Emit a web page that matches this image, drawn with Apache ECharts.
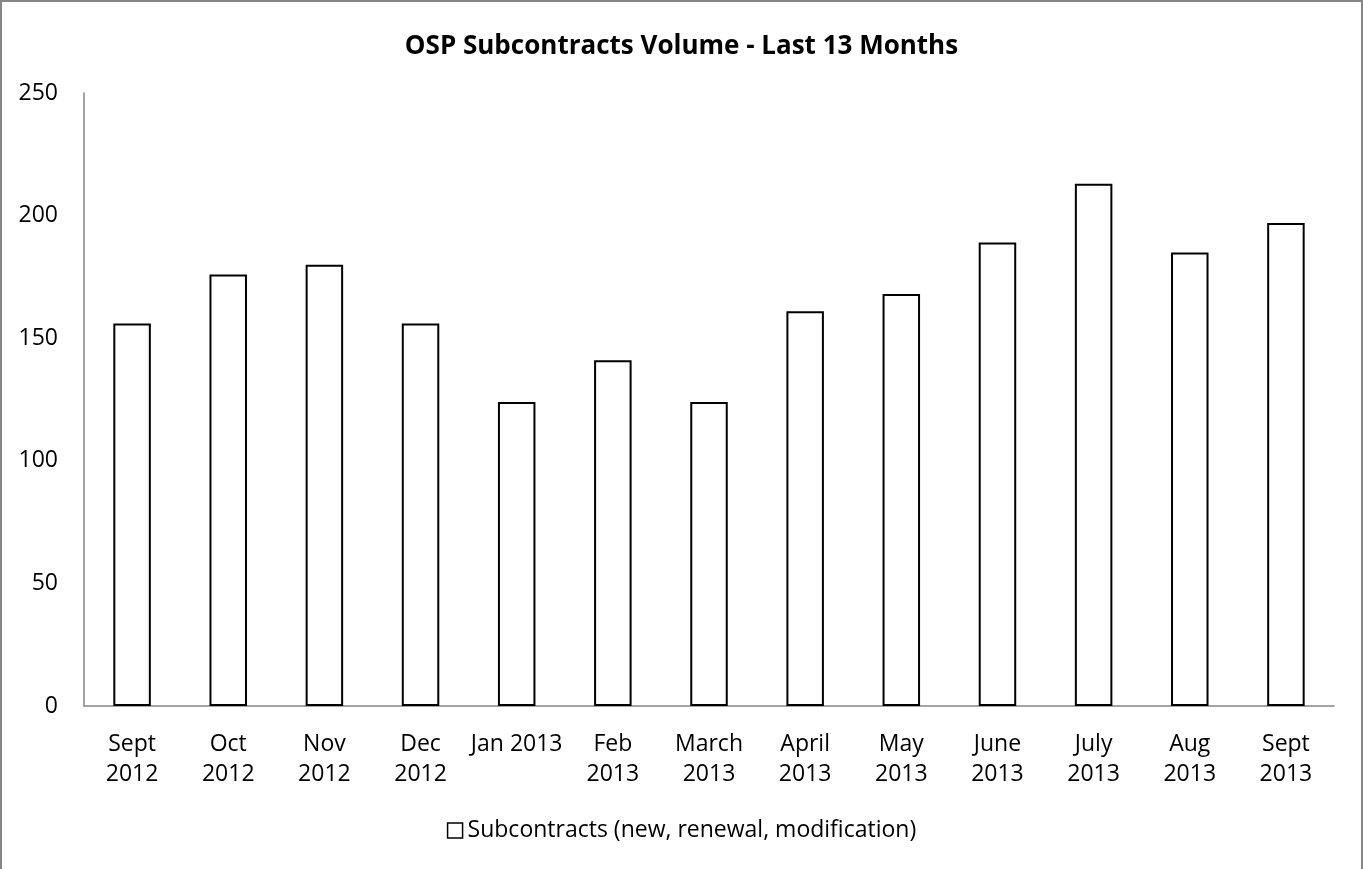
<!DOCTYPE html>
<html>
<head>
<meta charset="utf-8">
<title>OSP Subcontracts Volume</title>
<script src="https://cdn.jsdelivr.net/npm/echarts@6/dist/echarts.min.js"></script>
<style>
  html, body { margin: 0; padding: 0; background: #fff; }
  #chart { width: 1363px; height: 869px; }
</style>
</head>
<body>
<div id="chart"></div>
<script>
// months shown on the x axis
const months = [
  'Sept\n2012', 'Oct\n2012', 'Nov\n2012', 'Dec\n2012', 'Jan 2013', 'Feb\n2013',
  'March\n2013', 'April\n2013', 'May\n2013', 'June\n2013', 'July\n2013', 'Aug\n2013', 'Sept\n2013'
]
// subcontracts per month
const subcontracts = [156, 176, 180, 156, 124, 141, 124, 161, 168, 189, 213, 185, 197]
const seriesName = 'Subcontracts (new, renewal, modification)'

const axisColor = '#868686'
const fontFamily = '"Open Sans", "Noto Sans", sans-serif'

const chart = echarts.init(document.getElementById('chart'), null, { renderer: 'canvas' })

chart.setOption({
  animation: false,
  backgroundColor: '#fff',
  textStyle: { fontFamily: fontFamily, color: '#000' },
  graphic: [
    {
      // outer chart border (bottom edge is cut off in the reference)
      type: 'rect',
      shape: { x: 1, y: 1, width: 1361, height: 920 },
      style: { fill: 'none', stroke: axisColor, lineWidth: 2 },
      silent: true
    }
  ],
  title: {
    text: 'OSP Subcontracts Volume - Last 13 Months',
    left: 'center',
    top: 29,
    textStyle: { fontFamily: fontFamily, fontSize: 26, fontWeight: 'bold', color: '#000' }
  },
  legend: {
    data: [seriesName],
    bottom: 22,
    left: 'center',
    icon: 'rect',
    itemWidth: 15,
    itemHeight: 15,
    itemStyle: { color: '#fff', borderColor: '#000', borderWidth: 1.5 },
    textStyle: { fontFamily: fontFamily, fontSize: 23, color: '#000' }
  },
  grid: {
    left: 84,
    right: 29,
    top: 93,
    bottom: 163,
    containLabel: false
  },
  xAxis: {
    type: 'category',
    data: months,
    axisLine: { show: true, lineStyle: { color: axisColor, width: 1.5 } },
    axisTick: { show: false },
    axisLabel: {
      interval: 0,
      fontSize: 23,
      lineHeight: 30,
      margin: 23,
      color: '#000',
      fontFamily: fontFamily
    },
    splitLine: { show: false }
  },
  yAxis: {
    type: 'value',
    min: 0,
    max: 250,
    interval: 50,
    axisLine: { show: true, lineStyle: { color: axisColor, width: 1.5 } },
    axisTick: { show: false },
    axisLabel: { fontSize: 23, margin: 26, color: '#000', fontFamily: fontFamily },
    splitLine: { show: false }
  },
  series: [
    {
      name: seriesName,
      type: 'bar',
      barWidth: '39%',
      data: subcontracts,
      itemStyle: { color: '#fff', borderColor: '#000', borderWidth: 2 }
    }
  ]
})
</script>
</body>
</html>
